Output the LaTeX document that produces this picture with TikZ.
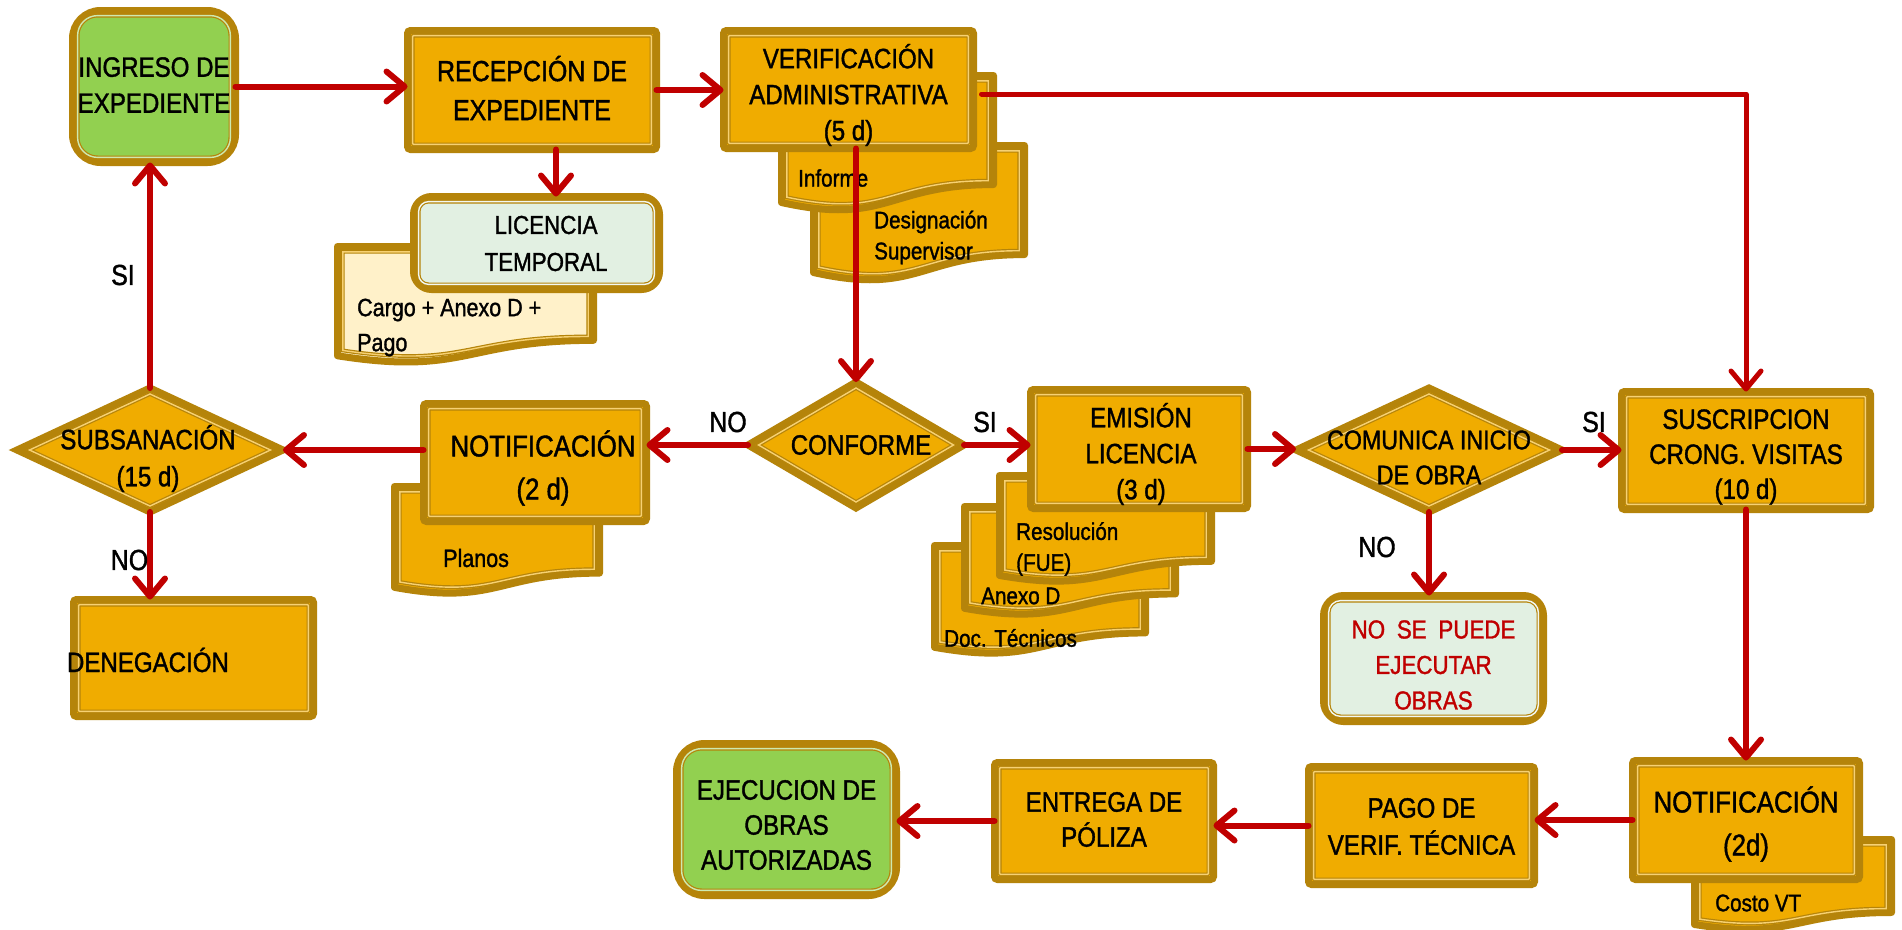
\documentclass[tikz,border=0pt]{standalone}
\usepackage{fontspec}
\setmainfont{Liberation Sans}[FakeStretch=0.86,FakeBold=1.3]
\usetikzlibrary{arrows.meta,shapes.geometric}

\definecolor{boxfill}{HTML}{F0AC00}
\definecolor{rim}{HTML}{B5840A}
\definecolor{okgreen}{HTML}{92D050}
\definecolor{palegreen}{HTML}{E2F0E2}
\definecolor{paleyellow}{HTML}{FFF1C9}
\definecolor{flow}{HTML}{C00000}

\tikzset{
  rimline/.style={draw=rim, line width=7pt},
  procbody/.style={rimline, rectangle, rounded corners=3pt, fill=boxfill, inner sep=0pt, outer sep=0pt},
  procinner/.style={rectangle, draw=rim, line width=1.2pt, double=boxfill!55!white, double distance=1.4pt, rounded corners=1pt, inner sep=0pt, outer sep=0pt},
  termbody/.style={rimline, rectangle, inner sep=0pt, outer sep=0pt},
  terminner/.style={rectangle, draw=rim, line width=1.2pt, double distance=1.4pt, inner sep=0pt, outer sep=0pt},
  decbody/.style={rimline, diamond, fill=boxfill, inner sep=0pt, outer sep=0pt},
  decinner/.style={diamond, draw=rim, line width=1.2pt, double=boxfill!55!white, double distance=1.4pt, inner sep=0pt, outer sep=0pt},
  sheetline/.style={draw=rim, line width=7pt, line join=round},
  sheetinner/.style={draw=rim, line width=1.2pt, double=boxfill!55!white, double distance=1.4pt},
  txt/.style={inner sep=0pt, outer sep=0pt, align=center, font=\fontsize{28}{36}\selectfont},
  doctxt/.style={inner sep=0pt, anchor=west, align=left, font=\fontsize{24}{31}\selectfont},
  branch/.style={inner sep=0pt, font=\fontsize{29}{34}\selectfont},
  flowarrow/.style={draw=flow, line width=6pt, line cap=round, line join=round,
    -{Straight Barb[length=18pt,width=30pt,round]}},
}

% rectangular process box: name, centre x, centre y, outer width, outer height
\newcommand\process[5]{%
  \node[procbody, minimum width={#4-7}, minimum height={#5-7}] (#1) at (#2,#3) {};
  \node[procinner, minimum width={#4-17.2}, minimum height={#5-17.2}] (#1-in) at (#1.center) {};
}
% rounded box: name, cx, cy, w, h, fill, corner radius, inner radius
\newcommand\terminal[8]{%
  \node[termbody, fill=#6, rounded corners=#7pt, minimum width={#4-7}, minimum height={#5-7}] (#1) at (#2,#3) {};
  \node[terminner, double=#6!45!white, rounded corners=#8pt, minimum width={#4-17.2}, minimum height={#5-17.2}] (#1-in) at (#1.center) {};
}
% decision diamond: name, cx, cy, path width, path height, inner width, inner height
\newcommand\decision[7]{%
  \node[decbody, minimum width=#4, minimum height=#5] (#1) at (#2,#3) {};
  \node[decinner, minimum width=#6, minimum height=#7] (#1-in) at (#1.center) {};
}
% document outline with wavy lower edge: left, top, width, height, path options
\newcommand\sheetpath[5]{%
  \path[#5] ({#1},{#2}) -- ({#1+#3},{#2}) -- ({#1+#3},{#2+0.802*(#4)})
    .. controls ({#1+0.5*(#3)},{#2+0.802*(#4)}) and ({#1+0.5*(#3)},{#2+1.107*(#4)})
    .. ({#1},{#2+0.934*(#4)}) -- cycle;
}
% document sheet: left, top, width, height, fill, name
\newcommand\sheet[6]{%
  \pgfmathsetmacro\shX{#1+3.5}\pgfmathsetmacro\shY{#2+3.5}%
  \pgfmathsetmacro\shW{#3-7}\pgfmathsetmacro\shH{#4-7}%
  \sheetpath{\shX}{\shY}{\shW}{\shH}{fill=#5, sheetline}
  \pgfmathsetmacro\shXi{\shX+5.3}\pgfmathsetmacro\shYi{\shY+5.3}%
  \pgfmathsetmacro\shWi{\shW-10.6}\pgfmathsetmacro\shHi{\shH-11.4}%
  \sheetpath{\shXi}{\shYi}{\shWi}{\shHi}{sheetinner}
  \coordinate (#6) at (#1,#2);
}

\begin{document}
\begin{tikzpicture}[x=1pt,y=-1pt]
\fill[white] (0,0) rectangle (1902,929);
\useasboundingbox (0,0) rectangle (1902,929);

% --- temporary licence branch
\sheet{334}{243}{263}{124}{paleyellow}{cargo}
\node[doctxt, font=\fontsize{25}{35}\selectfont] (cargo-t) at (357,327.5) {Cargo + Anexo D +\\Pago};
\terminal{lic}{536.5}{243}{253}{100}{palegreen}{18}{10}
\node[txt, font=\fontsize{26}{37}\selectfont] (lic-t) at (546,243.5) {LICENCIA\\TEMPORAL};

% --- administrative check and its documents
\sheet{810}{142}{218}{143}{boxfill}{desig}
\node[doctxt] (desig-t) at (874,237.5) {Designación\\Supervisor};
\sheet{778}{72}{219}{143}{boxfill}{inf}
\node[doctxt] (inf-t) at (798,178) {Informe};
\process{verif}{848.5}{89.5}{257}{125}
\node[txt] (verif-t) at (848.5,95) {VERIFICACIÓN\\ADMINISTRATIVA\\(5 d)};

% --- notification with plans
\sheet{391}{483}{212}{115}{boxfill}{planos}
\node[doctxt, font=\fontsize{25}{31}\selectfont] (planos-t) at (443,558) {Planos};
\process{notifL}{535}{462.5}{230}{125}
\node[txt, font=\fontsize{30}{43}\selectfont] (notifL-t) at (543,468) {NOTIFICACIÓN\\(2 d)};

% --- licence issue and its documents
\sheet{931}{542}{218}{116}{boxfill}{doctec}
\node[doctxt] (doctec-t) at (944,638) {Doc. Técnicos};
\sheet{961}{503}{218}{116}{boxfill}{anexo}
\node[doctxt] (anexo-t) at (981,596) {Anexo D};
\sheet{996}{472}{219}{114}{boxfill}{resol}
\node[doctxt] (resol-t) at (1016,549) {Resolución\\(FUE)};
\process{emis}{1139}{449}{224}{126}
\node[txt] (emis-t) at (1141,454) {EMISIÓN\\LICENCIA\\(3 d)};

% --- second notification with cost
\sheet{1691}{836}{204}{98}{boxfill}{costo}
\node[doctxt] (costo-t) at (1715,903) {Costo VT};
\process{notifR}{1746}{820}{234}{126}
\node[txt, font=\fontsize{30}{43}\selectfont] (notifR-t) at (1746,824) {NOTIFICACIÓN\\(2d)};

% --- remaining steps
\terminal{ingreso}{154}{86.5}{170}{159}{okgreen}{28}{20}
\node[txt] (ingreso-t) at (154,85) {INGRESO DE\\EXPEDIENTE};
\process{recep}{532}{90}{256}{126}
\node[txt, font=\fontsize{29}{39}\selectfont] (recep-t) at (532,88) {RECEPCIÓN DE\\EXPEDIENTE};
\process{deneg}{193.5}{658}{247}{124}
\node[txt, anchor=west] (deneg-t) at (67,660) {DENEGACIÓN};
\process{susc}{1746}{450.5}{256}{125}
\node[txt, font=\fontsize{28}{35}\selectfont] (susc-t) at (1746,457) {SUSCRIPCION\\CRONG. VISITAS\\(10 d)};
\terminal{nose}{1433.5}{658.5}{227}{133}{palegreen}{20}{12}
\node[txt, text=flow, font=\fontsize{26}{35.5}\selectfont] (nose-t) at (1433.5,665) {NO\hspace{0.45em}SE\hspace{0.45em}PUEDE\\EJECUTAR\\OBRAS};
\process{pago}{1421.5}{825.5}{233}{125}
\node[txt, font=\fontsize{28}{37}\selectfont] (pago-t) at (1421.5,826.5) {PAGO DE\\VERIF. TÉCNICA};
\process{entrega}{1104}{821}{226}{124}
\node[txt, font=\fontsize{28}{35}\selectfont] (entrega-t) at (1104,819.5) {ENTREGA DE\\PÓLIZA};
\terminal{ejec}{786.5}{819.5}{227}{159}{okgreen}{28}{20}
\node[txt, font=\fontsize{28}{35}\selectfont] (ejec-t) at (786.5,825) {EJECUCION DE\\OBRAS\\AUTORIZADAS};

% --- decisions
\decision{conf}{856}{445}{216}{126}{195}{114}
\node[txt] (conf-t) at (861,445) {CONFORME};
\decision{subsan}{150}{450}{266}{124}{241}{112}
\node[txt, font=\fontsize{28}{37}\selectfont] (subsan-t) at (148,458.5) {SUBSANACIÓN\\(15 d)};
\decision{comun}{1429}{450}{266}{124}{241}{112}
\node[txt, font=\fontsize{27}{35}\selectfont] (comun-t) at (1429,457.5) {COMUNICA INICIO\\DE OBRA};

% --- connectors
\draw[flowarrow] (ingreso.east) -- (ingreso.east -| recep.west);
\draw[flowarrow] (recep.east) -- (recep.east -| verif.west);
\draw[flowarrow] ([xshift=24pt]recep.south) -- ([xshift=24pt]recep.south |- lic.north);
\draw[flowarrow, line width=5pt] ([xshift=8pt,yshift=-4.5pt]verif.east) -| (susc.north);
\draw[flowarrow] ([xshift=7.5pt]verif.south) -- (conf.north);
\draw[flowarrow] (conf.west) -- (conf.west -| notifL.east);
\draw[flowarrow] (notifL.west |- subsan.east) -- (subsan.east);
\draw[flowarrow] (subsan.north) -- (subsan.north |- ingreso.south);
\draw[flowarrow] (subsan.south) -- (subsan.south |- deneg.north);
\draw[flowarrow] (conf.east) -- (conf.east -| emis.west);
\draw[flowarrow] (emis.east) -- (emis.east -| comun.west);
\draw[flowarrow] (comun.east) -- (comun.east -| susc.west);
\draw[flowarrow] (comun.south) -- (comun.south |- nose.north);
\draw[flowarrow] (susc.south) -- (notifR.north);
\draw[flowarrow] (notifR.west) -- (notifR.west -| pago.east);
\draw[flowarrow] (pago.west) -- (pago.west -| entrega.east);
\draw[flowarrow] (entrega.west) -- (entrega.west -| ejec.east);

% --- branch labels
\node[branch] (si-up) at (123,275) {SI};
\node[branch] (no-down) at (129.5,560) {NO};
\node[branch] (no-conf) at (728,422) {NO};
\node[branch] (si-conf) at (985,422) {SI};
\node[branch] (no-comun) at (1377,547) {NO};
\node[branch] (si-comun) at (1594,422) {SI};
\end{tikzpicture}
\end{document}
